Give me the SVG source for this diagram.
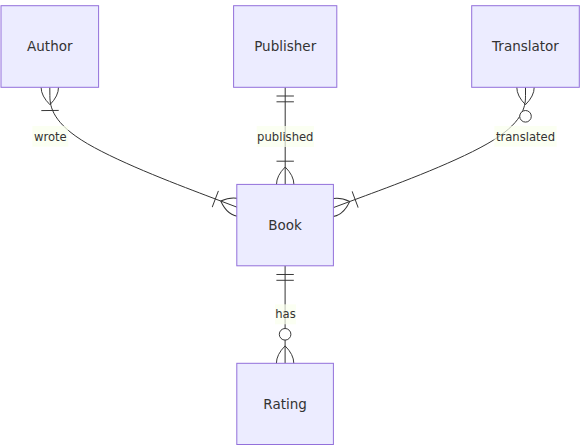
<svg xmlns="http://www.w3.org/2000/svg" width="583" height="447" viewBox="0 0 583 447">
<style>
.entity rect{fill:#ECECFF;stroke:#9370DB;stroke-width:1}
.entity text{font-family:"DejaVu Sans","Verdana",sans-serif;font-size:13.5px;fill:#333;text-anchor:middle}
.rel{fill:none;stroke:#333;stroke-width:1}
.mk{fill:none;stroke:#333;stroke-width:1}
.lblbox{fill:#F9FFEC;opacity:0.7}
.lbl{font-family:"DejaVu Sans","Verdana",sans-serif;font-size:11.6px;fill:#333;text-anchor:middle}
</style>
<defs>
<marker id="oneOrMoreStart" viewBox="0 0 45 36" markerWidth="43.5" markerHeight="34.8" refX="18" refY="18" orient="auto" markerUnits="userSpaceOnUse" overflow="visible">
<path class="mk" d="M0,18 Q18,0 36,18 Q18,36 0,18 M42,9 L42,27"/>
</marker>
<marker id="oneOrMoreEnd" viewBox="0 0 45 36" markerWidth="43.5" markerHeight="34.8" refX="27" refY="18" orient="auto" markerUnits="userSpaceOnUse" overflow="visible">
<path class="mk" d="M3,9 L3,27 M9,18 Q27,0 45,18 Q27,36 9,18"/>
</marker>
<marker id="onlyOneStart" viewBox="0 0 18 18" markerWidth="17.4" markerHeight="17.4" refX="0" refY="9" orient="auto" markerUnits="userSpaceOnUse" overflow="visible">
<path class="mk" d="M9,0 L9,18 M15,0 L15,18"/>
</marker>
<marker id="zeroOrMoreStart" viewBox="0 0 57 36" markerWidth="55.1" markerHeight="34.8" refX="18" refY="18" orient="auto" markerUnits="userSpaceOnUse" overflow="visible">
<circle class="mk" cx="48" cy="18" r="6" style="fill:#fff"/>
<path class="mk" d="M0,18 Q18,0 36,18 Q18,36 0,18"/>
</marker>
<marker id="zeroOrMoreEnd" viewBox="0 0 57 36" markerWidth="55.1" markerHeight="34.8" refX="39" refY="18" orient="auto" markerUnits="userSpaceOnUse" overflow="visible">
<circle class="mk" cx="9" cy="18" r="6" style="fill:#fff"/>
<path class="mk" d="M21,18 Q39,0 57,18 Q39,36 21,18"/>
</marker>
</defs>
<g id="connectors">
<path id="edge-author-book" class="rel" d="M49.8,87.3 L49.88,95.47 C49.97,103.63 50.13,119.97 81.35,139.95 C112.53,159.93 174.77,183.57 205.88,195.38 L237,207.2" marker-start="url(#oneOrMoreStart)" marker-end="url(#oneOrMoreEnd)"/>
<path id="edge-publisher-book" class="rel" d="M285.2,87.3 L285.2,136.4 L285.2,184.4" marker-start="url(#onlyOneStart)" marker-end="url(#oneOrMoreEnd)"/>
<path id="edge-translator-book" class="rel" d="M525.5,87.3 L525.5,95.48 C525.5,103.67 525.5,120.03 493.47,140.08 C461.43,160.13 397.37,183.87 365.33,195.73 L333.4,207.6" marker-start="url(#zeroOrMoreStart)" marker-end="url(#oneOrMoreEnd)"/>
<path id="edge-book-rating" class="rel" d="M285.1,265.8 L285.1,314.3 L285.1,363.3" marker-start="url(#onlyOneStart)" marker-end="url(#zeroOrMoreEnd)"/>
<g id="edge-labels">
<rect class="lblbox" x="32.3" y="126" width="36" height="20.7"/>
<text class="lbl" x="50.3" y="140.5">wrote</text>
<rect class="lblbox" x="256.7" y="126" width="57.3" height="21"/>
<text class="lbl" x="285.3" y="140.5">published</text>
<rect class="lblbox" x="494.3" y="126" width="62.4" height="20.7"/>
<text class="lbl" x="525.5" y="140.5">translated</text>
<rect class="lblbox" x="275" y="304.3" width="21" height="20"/>
<text class="lbl" x="285.5" y="318.4">has</text>
</g>
</g>
<g id="node-author" class="entity">
<rect x="1" y="5.7" width="97.6" height="81.6"/>
<text x="49.8" y="51.3">Author</text>
</g>
<g id="node-publisher" class="entity">
<rect x="233.6" y="5.7" width="103.2" height="81.6"/>
<text x="285.2" y="51.3">Publisher</text>
</g>
<g id="node-translator" class="entity">
<rect x="471.7" y="5.7" width="107.6" height="81.6"/>
<text x="525.5" y="51.3">Translator</text>
</g>
<g id="node-book" class="entity">
<rect x="236.8" y="184.4" width="96.6" height="81.4"/>
<text x="285.1" y="230">Book</text>
</g>
<g id="node-rating" class="entity">
<rect x="236.8" y="363.3" width="96.6" height="81.2"/>
<text x="285.1" y="408.8">Rating</text>
</g>
</svg>
